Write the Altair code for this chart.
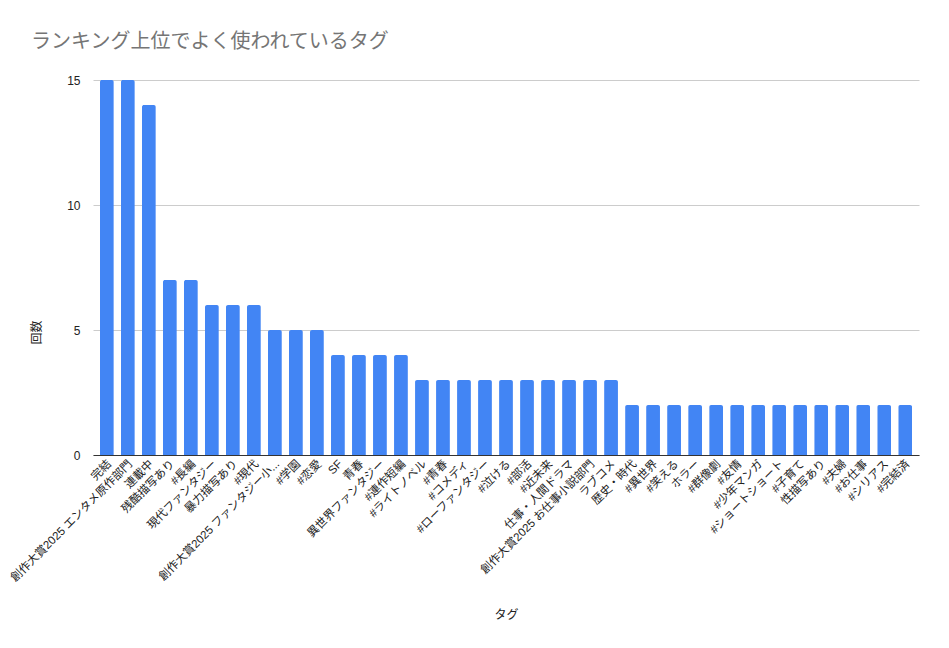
import altair as alt
import pandas as pd

tags = [
    "完結", "創作大賞2025 エンタメ原作部門", "連載中", "残酷描写あり", "#長編",
    "現代ファンタジー", "暴力描写あり", "#現代", "創作大賞2025 ファンタジー小説部門", "#学園",
    "#恋愛", "SF", "青春", "異世界ファンタジー", "#連作短編",
    "#ライトノベル", "#青春", "#コメディ", "#ローファンタジー", "#泣ける",
    "#部活", "#近未来", "仕事・人間ドラマ", "創作大賞2025 お仕事小説部門", "ラブコメ",
    "歴史・時代", "#異世界", "#笑える", "ホラー", "#群像劇",
    "#友情", "#少年マンガ", "#ショートショート", "#子育て", "性描写あり",
    "#夫婦", "#お仕事", "#シリアス", "#完結済",
]
counts = [
    15, 15, 14, 7, 7,
    6, 6, 6, 5, 5,
    5, 4, 4, 4, 4,
    3, 3, 3, 3, 3,
    3, 3, 3, 3, 3,
    2, 2, 2, 2, 2,
    2, 2, 2, 2, 2,
    2, 2, 2, 2,
]

df = pd.DataFrame({"タグ": tags, "回数": counts})

FONT = "Liberation Sans, Arial, Noto Sans CJK JP, sans-serif"

chart = alt.Chart(df).mark_bar(
    color="#4285F4", cornerRadiusTopLeft=2, cornerRadiusTopRight=2
).encode(
    x=alt.X(
        "タグ:N",
        sort=tags,
        scale=alt.Scale(paddingInner=0.34, paddingOuter=0.33),
        axis=alt.Axis(
            title="タグ",
            labelAngle=-45,
            labelAlign="right",
            labelBaseline="middle",
            labelFontSize=11.5,
            labelColor="#222222",
            labelLimit=300,
            labelExpr="length(datum.label) > 17 ? substring(datum.label, 0, 16) + '...' : datum.label",
            labelPadding=7,
            labelOffset=3,
            ticks=False,
            domainColor="#333333",
            titleFontSize=12,
            titleFontWeight="normal",
            titleColor="#222222",
            titleY=154,
        ),
    ),
    y=alt.Y(
        "回数:Q",
        scale=alt.Scale(domain=[0, 15], nice=False),
        axis=alt.Axis(
            title="回数",
            values=[0, 5, 10, 15],
            labelFontSize=12,
            labelColor="#222222",
            labelPadding=13,
            ticks=False,
            domain=False,
            gridColor="#cccccc",
            titleFontSize=12,
            titleFontWeight="normal",
            titleColor="#222222",
            titleX=-50,
            titleY=252,
        ),
    ),
).properties(
    width=826,
    height=375,
    title=alt.TitleParams(
        "ランキング上位でよく使われているタグ",
        anchor="start",
        frame="group",
        fontSize=20,
        fontWeight="normal",
        color="#757575",
        dx=-62,
        offset=22,
    ),
    autosize=alt.AutoSizeParams(type="none"),
    padding={"left": 85, "top": 72, "right": 20, "bottom": 180},
).configure(font=FONT).configure_view(stroke=None)

chart.save("out.html", embed_options={"renderer": "svg", "actions": False})
